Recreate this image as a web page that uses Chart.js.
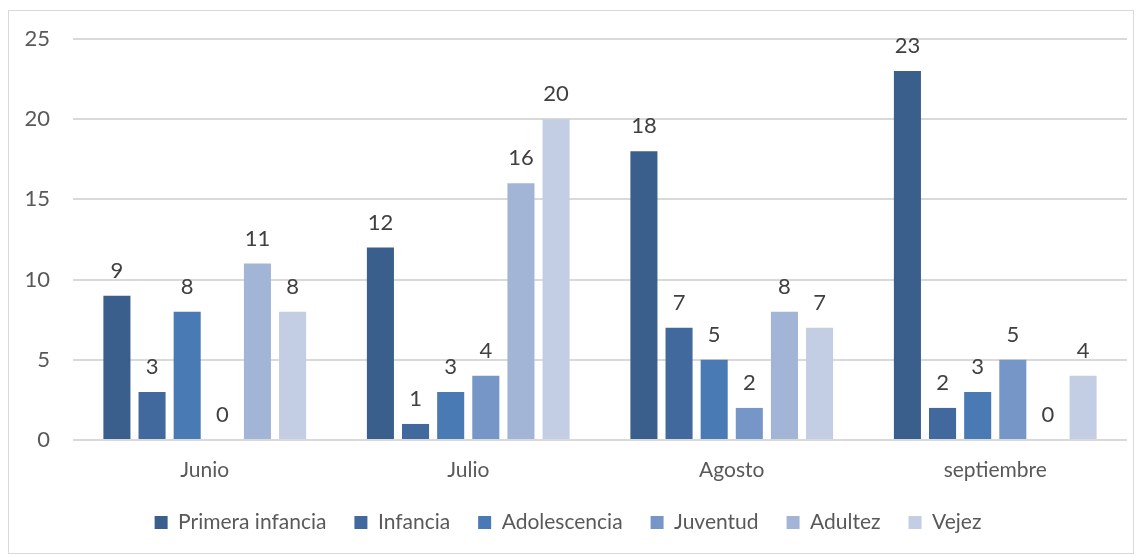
<!DOCTYPE html>
<html>
<head>
<meta charset="utf-8">
<script src="https://cdn.jsdelivr.net/npm/chart.js@4/dist/chart.umd.min.js"></script>
<style>
  html, body { margin: 0; padding: 0; background: #fff; }
  #frame {
    position: absolute; left: 8px; top: 10px;
    width: 1126px; height: 544px;
    border: 1px solid #d9d9d9; box-sizing: border-box;
  }
  #c { display: block; }
</style>
</head>
<body>
<div id="frame"><canvas id="c" width="1124" height="542"></canvas></div>
<script>
const months = ['Junio', 'Julio', 'Agosto', 'septiembre'];
const seriesNames = ['Primera infancia', 'Infancia', 'Adolescencia', 'Juventud', 'Adultez', 'Vejez'];
const primeraInfancia = [9, 12, 18, 23];
const infancia = [3, 1, 7, 2];
const adolescencia = [8, 3, 5, 3];
const juventud = [0, 4, 2, 5];
const adultez = [11, 16, 8, 0];
const vejez = [8, 20, 7, 4];
const yTicks = [0, 5, 10, 15, 20, 25];

const colors = ['#3a5f8c', '#41699e', '#4a7ab4', '#7596c6', '#a3b5d6', '#c3cde3'];
const values = [primeraInfancia, infancia, adolescencia, juventud, adultez, vejez];

const FONT = 'Lato, "Open Sans", sans-serif';

// Writes each bar's value just above its top
const valueLabels = {
  id: 'valueLabels',
  afterDatasetsDraw(chart) {
    const ctx = chart.ctx;
    ctx.save();
    ctx.font = '22px ' + FONT;
    ctx.fillStyle = '#404040';
    ctx.textAlign = 'center';
    ctx.textBaseline = 'alphabetic';
    chart.data.datasets.forEach((ds, i) => {
      const meta = chart.getDatasetMeta(i);
      meta.data.forEach((bar, j) => {
        ctx.fillText(String(ds.data[j]), bar.x, bar.y - 18);
      });
    });
    ctx.restore();
  }
};

new Chart(document.getElementById('c'), {
  type: 'bar',
  data: {
    labels: months,
    datasets: seriesNames.map((name, i) => ({
      label: name,
      data: values[i],
      backgroundColor: colors[i],
      borderWidth: 0,
      categoryPercentage: 0.8,
      barPercentage: 0.77
    }))
  },
  options: {
    responsive: false,
    animation: false,
    layout: { padding: { top: 28, right: 6, left: 0, bottom: 10 } },
    scales: {
      x: {
        afterFit(axis) { axis.height = 44; },
        grid: { display: false, drawTicks: false },
        border: { display: false },
        ticks: { color: '#595959', font: { family: FONT, size: 21 }, padding: 18 }
      },
      y: {
        min: 0, max: 25,
        afterBuildTicks(axis) { axis.ticks = yTicks.map(v => ({ value: v })); },
        afterFit(axis) {
          axis.width = 64;
          axis.paddingTop = 0;
          axis.paddingBottom = 0;
        },
        grid: { color: '#d9d9d9', lineWidth: 2, drawTicks: false },
        border: { display: false },
        ticks: { color: '#595959', font: { family: FONT, size: 22 }, padding: 23 }
      }
    },
    plugins: {
      legend: {
        position: 'bottom',
        labels: {
          color: '#595959',
          font: { family: FONT, size: 21 },
          boxWidth: 13, boxHeight: 13, padding: 28
        }
      },
      tooltip: { enabled: false }
    }
  },
  plugins: [valueLabels]
});
</script>
</body>
</html>
